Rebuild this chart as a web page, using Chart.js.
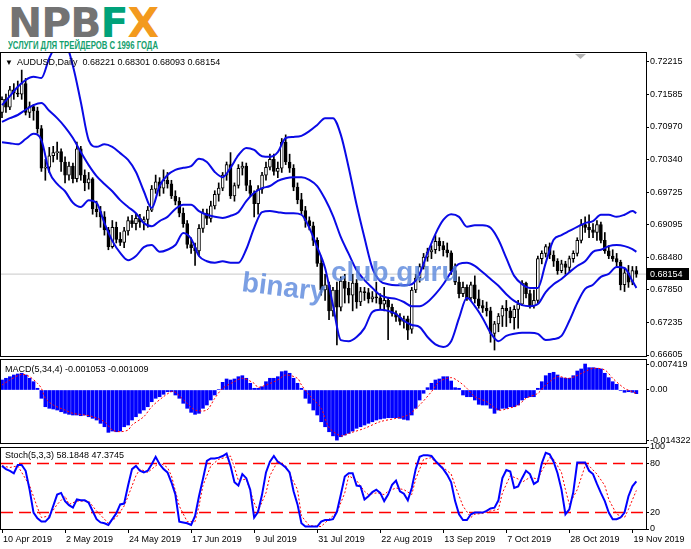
<!DOCTYPE html>
<html><head><meta charset="utf-8">
<script src="https://cdn.jsdelivr.net/npm/chart.js@4.4.0/dist/chart.umd.min.js"></script>
<style>
html,body{margin:0;padding:0;background:#fff;}
body{width:691px;height:549px;position:relative;overflow:hidden;font-family:"Liberation Sans",Arial,sans-serif;}
canvas{position:absolute;left:0;}
.t{position:absolute;font-size:9px;color:#000;white-space:pre;line-height:1;z-index:3;font-family:"Liberation Sans",Arial,sans-serif;}
.wm{position:absolute;font:bold 28px "Liberation Sans",Arial,sans-serif;color:rgba(90,135,220,0.8);line-height:1;white-space:nowrap;z-index:3;transform-origin:0 50%;}
#logo{position:absolute;left:8px;top:3px;font:bold 40px "DejaVu Sans",sans-serif;letter-spacing:-1px;line-height:1;white-space:nowrap;transform-origin:0 0;}
#sub{position:absolute;left:8px;top:41px;font:bold 10px "Liberation Sans",Arial,sans-serif;color:#13a06d;line-height:1;white-space:nowrap;transform-origin:0 0;}
</style></head><body>
<div id="logo"><span style="color:#737373">NPB</span><span style="color:#00a27a">F</span><span style="color:#f39a1e">X</span></div>
<div id="sub">УСЛУГИ ДЛЯ ТРЕЙДЕРОВ С 1996 ГОДА</div>
<canvas id="cMain" width="691" height="320" style="top:44px"></canvas>
<canvas id="cMacd" width="691" height="100" style="top:351px"></canvas>
<canvas id="cSto" width="691" height="110" style="top:439px"></canvas>
<div class="t" style="left:5px;top:59px;font-size:8px">▼</div>
<div class="t" style="left:17px;top:58px">AUDUSD,Daily  0.68221 0.68301 0.68093 0.68154</div>
<div class="t" style="left:5px;top:365px">MACD(5,34,4) -0.001053 -0.001009</div>
<div class="t" style="left:5px;top:451px">Stoch(5,3,3) 58.1848 47.3745</div>
<div class="wm" style="left:242px;top:268px;transform:rotate(7deg)">binary</div>
<div class="wm" style="left:331px;top:258px">club.guru</div>
<script>
// ---------------- DATA ----------------
const dateLabels = ['10 Apr 2019','2 May 2019','24 May 2019','17 Jun 2019','9 Jul 2019','31 Jul 2019','22 Aug 2019','13 Sep 2019','7 Oct 2019','28 Oct 2019','19 Nov 2019'];
const dateIdx = [0,16,32,48,64,80,96,112,128,144,160];

const priceTickLabels = ['0.72215','0.71585','0.70970','0.70340','0.69725','0.69095','0.68480','0.67850','0.67235','0.66605'];
const macdTickLabels = ['0.007419','0.00','-0.014322'];
const stochTickLabels = ['100','80','20','0'];
const stochLevels = [80, 20];
const lastPrice = 0.68154;

const opens = [.7125,.7150,.7135,.7168,.7162,.7160,.7180,.7125,.7136,.7128,
.7094,.7018,.7020,.7042,.7048,.7050,.7030,.7005,.7022,.6998,
.7055,.7005,.6990,.6998,.6940,.6935,.6925,.6900,.6868,.6905,
.6882,.6876,.6898,.6918,.6912,.6922,.6915,.6920,.6938,.6978,
.6992,.6980,.6995,.6988,.6965,.6955,.6932,.6912,.6872,.6866,
.6860,.6903,.6932,.6922,.6946,.6968,.6980,.7005,.7025,.6965,
.6985,.7018,.7022,.6985,.6970,.6950,.6978,.7005,.7020,.7035,
.7012,.7018,.7068,.7030,.7018,.6982,.6958,.6937,.6918,.6908,
.6880,.6836,.6785,.6795,.6745,.6785,.6752,.6802,.6788,.6775,
.6798,.6762,.6782,.6780,.6768,.6772,.6770,.6758,.6765,.6752,
.6740,.6733,.6725,.6730,.6710,.6785,.6808,.6830,.6848,.6858,
.6862,.6878,.6870,.6862,.6856,.6822,.6800,.6778,.6790,.6770,
.6795,.6768,.6755,.6750,.6745,.6702,.6720,.6735,.6750,.6745,
.6732,.6748,.6758,.6798,.6778,.6755,.6765,.6845,.6855,.6868,
.6852,.6840,.6822,.6835,.6828,.6845,.6855,.6880,.6910,.6905,
.6900,.6895,.6910,.6880,.6860,.6850,.6845,.6838,.6795,.6818,
.6800,.68221];
const highs = [.7155,.7160,.7175,.7180,.7185,.7206,.7190,.7145,.7140,.7135,
.7100,.7035,.7058,.7060,.7068,.7055,.7040,.7030,.7028,.7068,
.7060,.7015,.7010,.7000,.6955,.6945,.6935,.6905,.6918,.6915,
.6895,.6905,.6925,.6928,.6930,.6930,.6925,.6945,.6985,.7005,
.7000,.7015,.7010,.6995,.6975,.6962,.6942,.6918,.6885,.6875,
.6910,.6940,.6940,.6955,.6975,.6990,.7010,.7030,.7048,.6990,
.7025,.7030,.7028,.6995,.6975,.6985,.7010,.7030,.7045,.7045,
.7030,.7075,.7082,.7045,.7025,.6990,.6970,.6945,.6925,.6915,
.6885,.6850,.6815,.6800,.6790,.6800,.6810,.6815,.6800,.6815,
.6805,.6790,.6790,.6788,.6782,.6800,.6778,.6790,.6770,.6758,
.6745,.6740,.6735,.6735,.6790,.6815,.6835,.6855,.6865,.6870,
.6890,.6885,.6878,.6875,.6860,.6835,.6810,.6800,.6795,.6800,
.6812,.6785,.6765,.6762,.6752,.6725,.6740,.6755,.6765,.6752,
.6755,.6765,.6803,.6800,.6785,.6785,.6850,.6860,.6872,.6875,
.6860,.6845,.6842,.6840,.6850,.6860,.6885,.6920,.6925,.6929,
.6912,.6918,.6915,.6895,.6870,.6862,.6855,.6842,.6825,.6832,
.6830,.68301];
const lows = [.7115,.7125,.7130,.7150,.7155,.7150,.7120,.7115,.7110,.7085,
.7012,.6995,.7010,.7030,.7035,.7012,.6990,.6995,.6990,.6992,
.6995,.6975,.6978,.6930,.6925,.6905,.6890,.6862,.6865,.6875,
.6870,.6866,.6890,.6905,.6900,.6905,.6900,.6905,.6935,.6970,
.6965,.6970,.6980,.6960,.6948,.6925,.6905,.6865,.6855,.6832,
.6850,.6895,.6910,.6915,.6940,.6955,.6975,.6995,.6960,.6955,
.6980,.7005,.6975,.6965,.6925,.6930,.6970,.6995,.7015,.7005,
.7000,.7010,.7025,.7010,.6975,.6950,.6930,.6905,.6900,.6870,
.6830,.6775,.6765,.6728,.6735,.6680,.6745,.6760,.6760,.6745,
.6750,.6755,.6765,.6760,.6762,.6760,.6748,.6745,.6690,.6735,
.6725,.6718,.6712,.6690,.6702,.6780,.6800,.6825,.6840,.6845,
.6855,.6860,.6850,.6848,.6815,.6795,.6770,.6772,.6765,.6765,
.6760,.6750,.6742,.6735,.6685,.6670,.6705,.6715,.6715,.6722,
.6710,.6712,.6755,.6770,.6750,.6750,.6760,.6835,.6848,.6845,
.6830,.6815,.6818,.6815,.6820,.6838,.6850,.6875,.6895,.6885,
.6885,.6880,.6875,.6855,.6845,.6840,.6830,.6785,.6782,.6790,
.6795,.68093];
const closes = [.7150,.7135,.7168,.7162,.7160,.7180,.7125,.7136,.7128,.7094,
.7018,.7020,.7042,.7048,.7050,.7030,.7005,.7022,.6998,.7055,
.7005,.6990,.6998,.6940,.6935,.6925,.6900,.6868,.6905,.6882,
.6876,.6898,.6918,.6912,.6922,.6915,.6920,.6938,.6978,.6992,
.6980,.6995,.6988,.6965,.6955,.6932,.6912,.6872,.6866,.6860,
.6903,.6932,.6922,.6946,.6968,.6980,.7005,.7025,.6965,.6985,
.7018,.7022,.6985,.6970,.6950,.6978,.7005,.7020,.7035,.7012,
.7018,.7068,.7030,.7018,.6982,.6958,.6937,.6918,.6908,.6880,
.6836,.6785,.6795,.6745,.6785,.6752,.6802,.6788,.6775,.6798,
.6762,.6782,.6780,.6768,.6772,.6770,.6758,.6765,.6752,.6740,
.6733,.6725,.6730,.6708,.6785,.6808,.6830,.6848,.6858,.6862,
.6878,.6870,.6862,.6856,.6822,.6800,.6778,.6790,.6770,.6795,
.6768,.6755,.6750,.6745,.6702,.6720,.6735,.6750,.6745,.6732,
.6748,.6758,.6798,.6778,.6755,.6765,.6845,.6855,.6868,.6852,
.6840,.6822,.6835,.6828,.6845,.6855,.6880,.6910,.6905,.6900,
.6895,.6910,.6880,.6860,.6850,.6845,.6838,.6795,.6818,.6800,
.6822,.68154];

// Bollinger band readings at these bar indexes
const bbIdx = [0,2,4,6,8,10,12,14,16,18,20,22,24,26,28,30,32,34,36,38,40,42,44,46,48,50,52,54,56,58,60,62,64,66,68,70,72,74,76,78,80,82,84,86,88,90,92,94,96,98,100,102,104,106,108,110,112,114,116,118,120,122,124,126,128,130,132,134,136,138,140,142,144,146,148,150,152,154,156,158,160,161];
const bbUpper = [.7139,.7156,.7174,.7187,.7193,.7191,.7229,.7254,.7256,.7214,
.7145,.7072,.7059,.7064,.7059,.7047,.7034,.7011,.6974,.6942,
.6984,.7005,.7015,.7019,.7022,.7036,.7030,.7011,.7001,.7019,
.7043,.7057,.7053,.7041,.7040,.7049,.7076,.7078,.7080,.7089,
.7101,.7114,.7114,.7082,.7019,.6948,.6885,.6827,.6802,.6796,
.6794,.6794,.6796,.6816,.6856,.6892,.6919,.6930,.6925,.6906,
.6909,.6909,.6904,.6881,.6846,.6812,.6796,.6789,.6789,.6837,
.6881,.6890,.6898,.6906,.6913,.6917,.6929,.6929,.6925,.6929,
.6936,.6932];
const bbMiddle = [.7107,.7114,.7120,.7130,.7139,.7143,.7128,.7114,.7097,.7076,
.7049,.7024,.7003,.6988,.6974,.6957,.6944,.6932,.6913,.6907,
.6917,.6925,.6940,.6948,.6948,.6936,.6929,.6925,.6923,.6927,
.6934,.6955,.6971,.6980,.6984,.6994,.6999,.7001,.7001,.6996,
.6984,.6959,.6927,.6886,.6854,.6823,.6804,.6789,.6775,.6770,
.6768,.6762,.6754,.6754,.6762,.6777,.6796,.6819,.6835,.6837,
.6831,.6819,.6806,.6793,.6777,.6764,.6756,.6754,.6758,.6781,
.6796,.6806,.6819,.6831,.6840,.6858,.6862,.6869,.6871,.6869,
.6863,.6858];
const bbLower = [.7068,.7066,.7064,.7074,.7084,.7072,.7011,.6988,.6974,.6952,
.6944,.6957,.6952,.6913,.6879,.6856,.6842,.6850,.6867,.6871,
.6858,.6862,.6871,.6894,.6883,.6850,.6840,.6837,.6840,.6837,
.6837,.6863,.6904,.6934,.6936,.6934,.6932,.6932,.6929,.6904,
.6867,.6827,.6756,.6689,.6687,.6695,.6712,.6743,.6747,.6745,
.6739,.6726,.6718,.6714,.6695,.6681,.6676,.6687,.6731,.6770,
.6754,.6731,.6703,.6687,.6697,.6701,.6703,.6703,.6701,.6689,
.6691,.6697,.6726,.6760,.6787,.6795,.6810,.6816,.6829,.6827,
.6802,.6789];

const macdHist = [.00286,.00335,.00380,.00429,.00458,.00478,.00429,.00335,.00237,.00049,
-.00237,-.00478,-.00523,-.00543,-.00572,-.00621,-.00666,-.00695,-.00715,-.00715,
-.00735,-.00715,-.00764,-.00809,-.00858,-.00952,-.01050,-.01210,-.01173,-.01193,
-.01173,-.01050,-.01001,-.00858,-.00764,-.00666,-.00572,-.00478,-.00335,-.00237,
-.00192,-.00123,-.00049,-.00049,-.00143,-.00237,-.00380,-.00523,-.00638,-.00695,
-.00666,-.00523,-.00429,-.00286,-.00143,.00014,.00220,.00315,.00286,.00315,
.00380,.00409,.00335,.00192,.00049,.00049,.00094,.00237,.00335,.00335,
.00380,.00523,.00543,.00478,.00335,.00192,.00049,-.00237,-.00380,-.00572,
-.00715,-.00907,-.01050,-.01193,-.01310,-.01432,-.01336,-.01287,-.01238,-.01173,
-.01095,-.01050,-.01001,-.00952,-.00907,-.00858,-.00829,-.00809,-.00792,-.00792,
-.00792,-.00809,-.00838,-.00858,-.00715,-.00523,-.00286,-.00094,.00066,.00192,
.00286,.00315,.00380,.00380,.00257,.00066,.00049,-.00143,-.00192,-.00192,
-.00286,-.00409,-.00429,-.00429,-.00523,-.00666,-.00572,-.00523,-.00523,-.00478,
-.00478,-.00429,-.00286,-.00220,-.00192,-.00192,.00049,.00237,.00409,.00478,
.00506,.00429,.00352,.00335,.00335,.00409,.00543,.00601,.00742,.00638,
.00638,.00621,.00601,.00478,.00352,.00237,.00163,-.00014,-.00066,-.00049,
-.00066,-.00105];
const macdSigIdx = [0,2,5,7,9,10,11,13,16,18,21,23,26,28,30,32,33,36,38,41,43,44,47,49,52,54,56,59,61,64,65,67,70,72,75,76,78,81,83,86,88,92,96,100,103,106,109,111,114,116,118,120,123,126,128,131,133,136,138,141,144,148,150,153,155,158,160,161];
const macdSigVal = [.00143,.00286,.00448,.00381,.00191,.00048,-.00238,-.00429,-.00572,-.00667,
-.00715,-.00762,-.00905,-.01144,-.01191,-.01144,-.01001,-.00762,-.00477,-.00191,
-.00048,-.00067,-.00381,-.00572,-.00572,-.00238,.00048,.00238,.00334,.00191,
.00076,.00143,.00286,.00429,.00334,.00143,-.00143,-.00524,-.0107,-.0131,
-.01239,-.01096,-.00905,-.0081,-.00715,-.00429,-.00048,.00238,.00353,.00238,
.00048,-.00191,-.00334,-.00572,-.00543,-.00429,-.00238,-.00095,.00143,.00381,
.00334,.00524,.0062,.00572,.00334,.00048,-.00048,-.00101];

const stochMain = [77,73,71,68,78,78,71,48,20,13,
9,9,14,28,42,44,34,29,26,36,
35,35,32,22,12,8,7,5,12,19,
30,31,53,73,77,71,69,71,79,88,
79,73,69,57,42,9,8,7,5,16,
40,61,83,86,86,87,89,92,77,57,
53,67,62,48,14,21,42,69,82,89,
82,79,75,69,46,30,7,3,3,3,
3,9,11,11,12,21,42,64,68,68,
53,52,36,40,45,48,44,34,42,54,
59,46,43,35,50,73,88,90,90,89,
83,78,73,66,57,34,18,11,11,18,
20,20,20,22,25,26,35,62,72,70,
50,52,62,71,67,55,58,80,93,91,
82,68,48,18,24,45,81,81,81,71,
67,55,44,34,20,12,12,14,20,40,
52,58];
const stochSigIdx = [0,2,4,5,7,9,10,12,14,16,17,19,22,24,26,27,29,31,32,34,35,37,38,40,42,43,45,47,49,50,51,53,55,58,59,60,62,64,65,67,68,70,72,73,75,76,78,81,83,85,87,88,90,92,93,95,97,98,100,102,104,105,107,109,110,112,114,115,117,119,120,122,124,126,127,129,131,132,134,136,137,139,140,142,143,144,146,148,149,151,153,154,156,158,159,161];
const stochSigVal = [77,75,77,69,53,26,14,16,30,40,30,34,34,22,12,7,14,28,40,65,73,69,73,81,75,65,28,9,9,28,53,77,85,89,75,59,61,32,22,44,65,83,77,67,48,16,4,3,12,20,44,65,59,46,42,44,42,46,50,48,42,61,85,87,81,75,67,53,28,14,18,19,22,24,44,65,61,57,63,61,71,87,85,69,48,30,48,77,77,67,53,36,18,14,24,47];

// ---------------- RENDER ----------------
const X_MIN = -0.254, X_MAX = 163.45;
Chart.defaults.font.family = '"Liberation Sans", Arial, sans-serif';
Chart.defaults.font.size = 9;
Chart.defaults.color = '#000';

const pts = (xs, ys) => xs.map((x, k) => ({x, y: ys[k]}));
const bars = closes.map((c, i) => i);

const frame = {id:'frame', afterDraw(c){
  const a = c.chartArea, g = c.ctx;
  g.save(); g.strokeStyle = '#000'; g.lineWidth = 1;
  g.strokeRect(a.left - 0.5, a.top + 0.5, a.right - a.left + 1, a.bottom - a.top);
  g.restore();
}};

const priceBox = {id:'priceBox', afterDraw(c){
  const g = c.ctx, y = Math.round(c.scales.y.getPixelForValue(lastPrice));
  g.save();
  g.fillStyle = '#000'; g.fillRect(647, y - 6, 42, 12);
  g.fillStyle = '#fff'; g.font = '9px "Liberation Sans", Arial, sans-serif';
  g.textBaseline = 'middle'; g.textAlign = 'left';
  g.fillText(lastPrice.toFixed(5), 650, y + 0.5);
  g.fillStyle = '#b4b4b4';
  g.beginPath(); g.moveTo(575, c.chartArea.top + 2); g.lineTo(586, c.chartArea.top + 2); g.lineTo(580.5, c.chartArea.top + 7); g.closePath(); g.fill();
  g.restore();
}};

function yAxis(min, max, values, labels){
  return {
    position:'right', min, max,
    afterFit: s => { s.width = 45; },
    afterBuildTicks: s => { s.ticks = values.map(v => ({value:v})); },
    ticks:{ callback:(v, i) => labels[i], autoSkip:false, padding:1, color:'#000', font:{size:9} },
    grid:{ display:true, drawOnChartArea:false, drawTicks:true, tickLength:3, color:'#000' },
    border:{ display:false }
  };
}
function xAxis(show){
  const s = {type:'linear', min:X_MIN, max:X_MAX, display:show, offset:false, bounds:'data', grid:{offset:false},
    afterBuildTicks: sc => { sc.ticks = dateIdx.map(v => ({value:v})); }};
  if (show) Object.assign(s, {
    position:'bottom',
    afterFit: sc => { sc.height = 15; },
    ticks:{ callback:(v, i) => dateLabels[i], autoSkip:false, maxRotation:0, minRotation:0, align:'start', padding:1, labelOffset:1, color:'#000', font:{size:9} },
    grid:{ display:true, offset:false, drawOnChartArea:false, drawTicks:true, tickLength:4, color:'#000' },
    border:{ display:false }
  });
  return s;
}
const base = (padBottom) => ({
  responsive:false, devicePixelRatio:1, animation:false, events:[],
  layout:{padding:{left:1, right:0, top:8, bottom:padBottom}},
  plugins:{legend:{display:false}, tooltip:{enabled:false}}
});
const bandStyle = {type:'line', borderColor:'#0a0ae6', borderWidth:2, pointRadius:0, cubicInterpolationMode:'monotone', fill:false, order:1};

new Chart(document.getElementById('cMain'), {
  type:'bar',
  data:{datasets:[
    {type:'line', data:[{x:X_MIN, y:lastPrice},{x:X_MAX, y:lastPrice}], borderColor:'#c8c8c8', borderWidth:1, pointRadius:0, order:10},
    {type:'bar', data:bars.map(i => ({x:i, y:[lows[i], highs[i]]})), backgroundColor:'#000', grouped:false, barPercentage:1, categoryPercentage:1, maxBarThickness:1, order:6},
    {type:'bar', data:bars.map(i => ({x:i, y:[opens[i], closes[i]]})),
      backgroundColor: ctx => (ctx.dataIndex !== undefined && closes[ctx.dataIndex] >= opens[ctx.dataIndex]) ? '#ffffff' : '#000000',
      borderColor:'#000', borderWidth:1, borderSkipped:false, grouped:false, barPercentage:1, categoryPercentage:1, maxBarThickness:3, minBarLength:1, order:5},
    Object.assign({data:pts(bbIdx, bbUpper)}, bandStyle),
    Object.assign({data:pts(bbIdx, bbMiddle)}, bandStyle),
    Object.assign({data:pts(bbIdx, bbLower)}, bandStyle)
  ]},
  options:Object.assign(base(8), {scales:{
    x:xAxis(false),
    y:yAxis(0.66586, 0.72406, priceTickLabels.map(Number), priceTickLabels)
  }}),
  plugins:[frame, priceBox]
});

new Chart(document.getElementById('cMacd'), {
  type:'bar',
  data:{datasets:[
    {type:'bar', data:pts(bars, macdHist), backgroundColor:'#0000ff', grouped:false, barPercentage:1, categoryPercentage:1, maxBarThickness:3, order:3},
    {type:'line', data:pts(macdSigIdx, macdSigVal), borderColor:'#ff0000', borderWidth:1, borderDash:[2,2], pointRadius:0, tension:0.3, order:1}
  ]},
  options:Object.assign(base(8), {scales:{
    x:xAxis(false),
    y:yAxis(-0.015143, 0.008857, macdTickLabels.map(Number), macdTickLabels)
  }}),
  plugins:[frame]
});

new Chart(document.getElementById('cSto'), {
  type:'line',
  data:{datasets:[
    {data:[{x:X_MIN, y:stochLevels[0]},{x:X_MAX, y:stochLevels[0]}], borderColor:'#ff0000', borderWidth:1.5, borderDash:[12,6], pointRadius:0, order:5},
    {data:[{x:X_MIN, y:stochLevels[1]},{x:X_MAX, y:stochLevels[1]}], borderColor:'#ff0000', borderWidth:1.5, borderDash:[12,6], pointRadius:0, order:5},
    {data:pts(stochSigIdx, stochSigVal), borderColor:'#ff0000', borderWidth:1, borderDash:[2,2], pointRadius:0, tension:0, order:2},
    {data:pts(bars, stochMain), borderColor:'#0000ff', borderWidth:2, pointRadius:0, tension:0, order:1}
  ]},
  options:Object.assign(base(5), {scales:{
    x:xAxis(true),
    y:yAxis(0, 100, stochTickLabels.map(Number), stochTickLabels)
  }}),
  plugins:[frame]
});

function fitW(id, w){ const el = document.getElementById(id); const r = el.getBoundingClientRect().width; el.style.transform = 'scaleX(' + (w / r) + ')'; }
fitW('logo', 150); fitW('sub', 150);
</script>
</body></html>
